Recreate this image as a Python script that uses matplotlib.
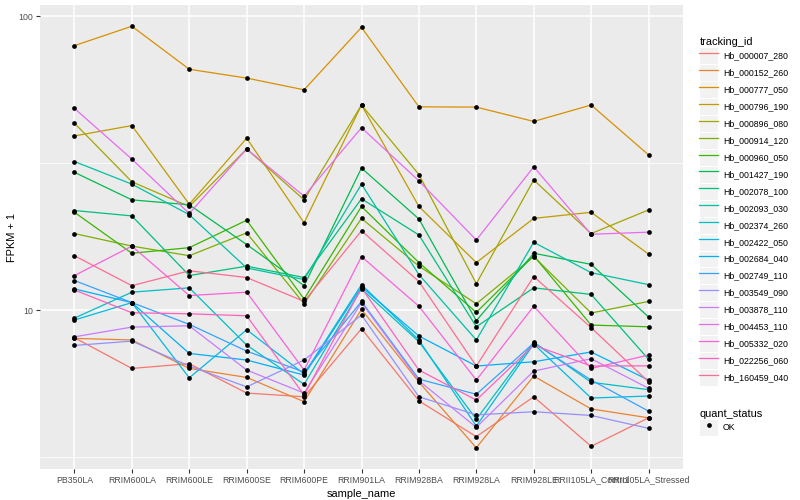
import matplotlib
matplotlib.use("Agg")
import matplotlib.pyplot as plt
from matplotlib.lines import Line2D
from matplotlib.patches import Rectangle
from matplotlib.legend_handler import HandlerLine2D
from matplotlib.ticker import FixedLocator, FixedFormatter, NullFormatter

plt.rcParams['font.family'] = ['Liberation Sans', 'DejaVu Sans']

# Data (FPKM + 1)
samples = ['PB350LA', 'RRIM600LA', 'RRIM600LE', 'RRIM600SE', 'RRIM600PE', 'RRIM901LA',
           'RRIM928BA', 'RRIM928LA', 'RRIM928LE', 'RRII105LA_Control', 'RRII105LA_Stressed']

tracking_ids = ['Hb_000007_280', 'Hb_000152_260', 'Hb_000777_050', 'Hb_000796_190',
                'Hb_000896_080', 'Hb_000914_120', 'Hb_000960_050', 'Hb_001427_190',
                'Hb_002078_100', 'Hb_002093_030', 'Hb_002374_260', 'Hb_002422_050',
                'Hb_002684_040', 'Hb_002749_110', 'Hb_003549_090', 'Hb_003878_110',
                'Hb_004453_110', 'Hb_005332_020', 'Hb_022256_060', 'Hb_160459_040']

hb_000007_280 = [8.05, 6.33, 6.57, 5.22, 5.07, 8.64, 4.91, 3.71, 5.07, 3.44, 4.30]
hb_000152_260 = [8.01, 7.91, 6.33, 5.90, 4.88, 10.05, 5.69, 3.40, 5.96, 4.61, 4.30]
hb_000777_050 = [79.3, 92.3, 65.9, 61.5, 56.1, 91.5, 49.1, 49.0, 43.8, 49.8, 33.7]
hb_000796_190 = [39.1, 42.4, 22.9, 38.4, 19.8, 49.8, 22.5, 14.5, 20.5, 21.5, 15.5]
hb_000896_080 = [43.2, 27.3, 22.5, 35.3, 23.7, 49.8, 28.9, 12.3, 27.7, 18.2, 21.9]
hb_000914_120 = [18.2, 16.5, 15.3, 18.3, 10.5, 20.5, 14.1, 10.5, 15.2, 9.77, 10.7]
hb_000960_050 = [21.5, 15.6, 16.3, 20.2, 10.9, 22.5, 14.5, 9.82, 15.3, 8.89, 8.77]
hb_001427_190 = [29.4, 23.7, 22.8, 16.7, 12.1, 30.4, 20.4, 9.20, 15.6, 14.3, 9.47]
hb_002078_100 = [21.8, 20.9, 13.1, 14.1, 12.9, 23.9, 18.0, 8.77, 11.9, 11.3, 6.80]
hb_002093_030 = [32.0, 26.8, 21.1, 13.9, 12.7, 26.8, 13.2, 7.91, 17.0, 13.4, 12.2]
hb_002374_260 = [9.39, 11.5, 11.9, 7.60, 5.59, 11.8, 7.80, 4.25, 7.78, 5.68, 5.36]
hb_002422_050 = [9.25, 10.6, 5.88, 8.57, 6.06, 12.2, 7.91, 4.03, 7.66, 5.02, 5.10]
hb_002684_040 = [11.8, 10.6, 7.12, 6.76, 6.01, 12.0, 8.16, 6.45, 6.67, 7.20, 5.78]
hb_002749_110 = [12.6, 10.6, 8.94, 7.25, 6.15, 10.7, 5.82, 5.17, 7.72, 5.78, 4.53]
hb_003549_090 = [7.58, 7.84, 6.45, 5.48, 6.76, 9.62, 5.07, 4.40, 4.51, 4.38, 3.96]
hb_003878_110 = [8.11, 8.75, 8.84, 6.25, 5.22, 10.6, 5.75, 3.99, 6.20, 6.83, 5.42]
hb_004453_110 = [48.5, 32.6, 21.3, 35.3, 24.4, 41.7, 27.5, 17.3, 30.7, 18.1, 18.4]
hb_005332_020 = [13.1, 16.5, 11.2, 11.5, 6.25, 15.2, 10.3, 5.78, 10.3, 6.33, 7.03]
hb_022256_060 = [11.7, 9.79, 9.71, 9.56, 5.14, 11.9, 6.25, 4.94, 7.60, 6.45, 6.46]
hb_160459_040 = [15.3, 12.1, 13.6, 12.9, 10.7, 18.6, 12.5, 6.45, 13.0, 8.71, 5.70]

series = [hb_000007_280, hb_000152_260, hb_000777_050, hb_000796_190, hb_000896_080,
          hb_000914_120, hb_000960_050, hb_001427_190, hb_002078_100, hb_002093_030,
          hb_002374_260, hb_002422_050, hb_002684_040, hb_002749_110, hb_003549_090,
          hb_003878_110, hb_004453_110, hb_005332_020, hb_022256_060, hb_160459_040]

# ggplot default hue palette for 20 levels
colors = ['#F8766D', '#EA8331', '#D89000', '#C09B00', '#A3A500', '#7CAE00', '#39B600',
          '#00BB4E', '#00BF7D', '#00C1A3', '#00BFC4', '#00BAE0', '#00B0F6', '#35A2FF',
          '#9590FF', '#C77CFF', '#E76BF3', '#FA62DB', '#FF62BC', '#FF6C91']


class BoxedLine(HandlerLine2D):
    # legend key with the grey ggplot box behind it
    def create_artists(self, legend, orig_handle, xdescent, ydescent, width, height, fontsize, trans):
        bg = Rectangle((-xdescent, -ydescent), width, height, facecolor='#F2F2F2',
                       edgecolor='white', lw=0.8, transform=trans)
        arts = super().create_artists(legend, orig_handle, xdescent, ydescent,
                                      width, height, fontsize, trans)
        return [bg] + list(arts)


fig = plt.figure(figsize=(8, 5), dpi=100)
ax = fig.add_axes([40 / 800, 1 - 469 / 500, (683 - 40) / 800, (469 - 5) / 500])
ax.set_facecolor('#EBEBEB')

x = list(range(len(samples)))
for vals, col in zip(series, colors):
    ax.plot(x, vals, color=col, lw=0.9, zorder=2)
for vals in series:
    ax.plot(x, vals, 'o', color='black', ms=3.4, mew=0, zorder=3)

ax.set_yscale('log')
ax.set_ylim(2.88, 109)
ax.set_xlim(-0.6, 10.6)
ax.yaxis.set_major_locator(FixedLocator([10, 100]))
ax.yaxis.set_major_formatter(FixedFormatter(['10', '100']))
ax.yaxis.set_minor_locator(FixedLocator([10 ** 0.5, 10 ** 1.5]))
ax.yaxis.set_minor_formatter(NullFormatter())
ax.set_xticks(x)
ax.set_xticklabels(samples)

ax.grid(which='major', color='white', lw=1.1)
ax.grid(which='minor', axis='y', color='white', lw=0.55)
ax.set_axisbelow(True)
for s in ax.spines.values():
    s.set_visible(False)
ax.tick_params(which='major', length=2.7, width=0.8, color='#333333', labelsize=6.3,
               labelcolor='#4D4D4D', pad=2)
ax.tick_params(which='minor', length=0)

ax.set_xlabel('sample_name', fontsize=7.9, labelpad=3)
ax.set_ylabel('FPKM + 1', fontsize=7.9, labelpad=1)

# Legends
line_handles = [Line2D([], [], color=c, lw=0.9) for c in colors]
leg1 = fig.legend(line_handles, tracking_ids, loc='upper left',
                  bbox_to_anchor=(695 / 800, 1 - 33 / 500), title='tracking_id',
                  fontsize=6.3, title_fontsize=7.9, handlelength=2.1, handleheight=2.6,
                  labelspacing=0, handletextpad=0.6, borderpad=0, frameon=False,
                  alignment='left', handler_map={Line2D: BoxedLine()})

ok_handle = Line2D([], [], marker='o', color='black', linestyle='none', ms=3.4, mew=0)
leg2 = fig.legend([ok_handle], ['OK'], loc='upper left',
                  bbox_to_anchor=(695 / 800, 1 - 405 / 500), title='quant_status',
                  fontsize=6.3, title_fontsize=7.9, handlelength=2.1, handleheight=2.6,
                  labelspacing=0, handletextpad=0.6, borderpad=0, frameon=False,
                  alignment='left', handler_map={Line2D: BoxedLine()})

fig.savefig('out.png', dpi=100)
